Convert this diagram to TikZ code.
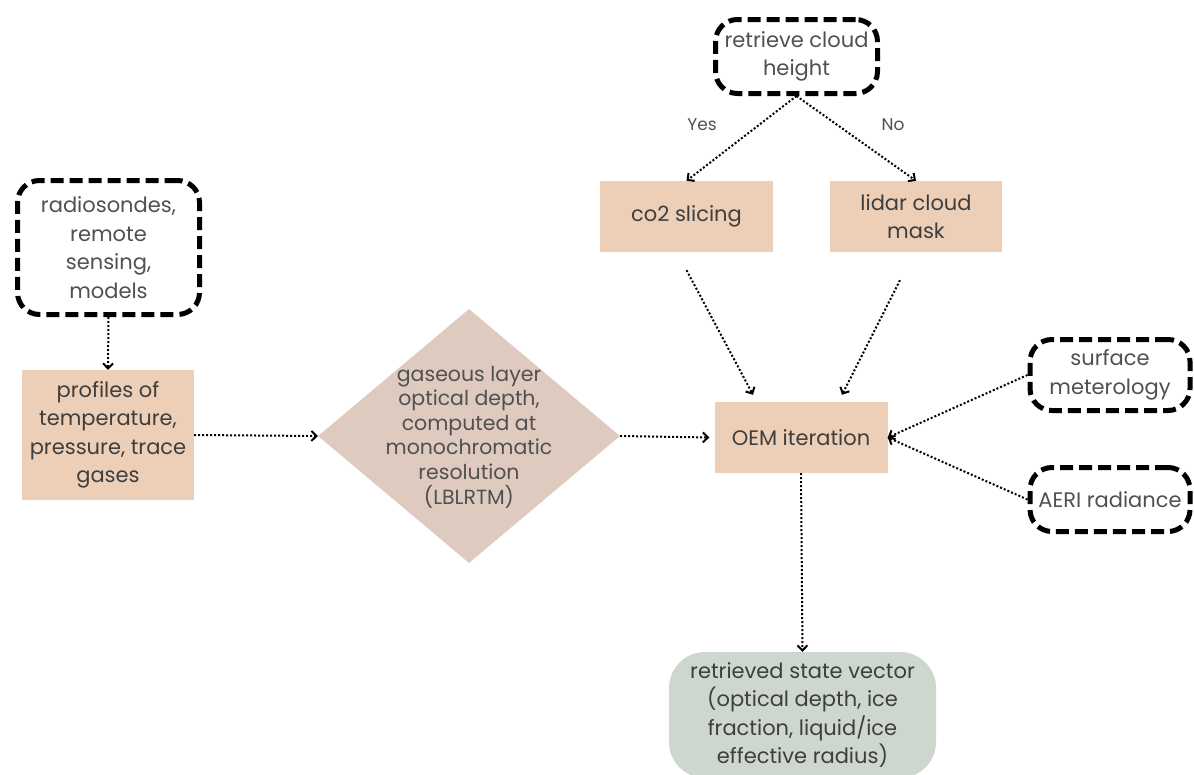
\documentclass[tikz,border=0pt]{standalone}
\usepackage{fontspec}
\setmainfont{Poppins}
\usetikzlibrary{shapes.geometric,arrows.meta,calc}
\definecolor{peach}{HTML}{EDCFB8}
\definecolor{diafill}{HTML}{DFCAC0}
\definecolor{sage}{HTML}{CED7CD}
\definecolor{txtdark}{HTML}{3E3E3E}
\definecolor{txtgray}{HTML}{505050}
\tikzset{
  base/.style={align=center, inner sep=0pt, font=\fontsize{21}{28.5}\selectfont},
  fillbox/.style={base, rectangle, fill=peach, text=txtdark},
  dashbox/.style={base, rectangle, draw=black, line width=5pt, dash pattern=on 13pt off 6pt, rounded corners=22pt, text=txtgray},
  dotarrow/.style={line width=2pt, dash pattern=on 2pt off 2pt, -{Straight Barb[length=5pt,width=10pt,line width=2pt]}},
  lbl/.style={font=\fontsize{17}{19}\selectfont, text=txtgray, inner sep=0pt}
}
\begin{document}
\begin{tikzpicture}[x=1pt,y=-1pt]
\useasboundingbox (0,0) rectangle (1194,774);
% nodes
\node[dashbox, minimum width=162pt, minimum height=74pt] (top) at (796.5,56.5) {retrieve cloud\\height};
\node[fillbox, minimum width=173pt, minimum height=71pt] (co2) at (686.5,216.5) {co2 slicing};
\node[fillbox, minimum width=172pt, minimum height=71pt] (lidar) at (916,216.5) {lidar cloud\\mask};
\node[dashbox, minimum width=182pt, minimum height=134pt] (rad) at (108.5,247.5) {radiosondes,\\remote\\sensing,\\models};
\node[fillbox, minimum width=172pt, minimum height=130pt] (prof) at (108,435) {profiles of\\temperature,\\pressure, trace\\gases};
\node[diamond, fill=diafill, minimum width=302pt, minimum height=254pt, inner sep=0pt] (dia) at (469,436) {};
\node[base, text=txtgray, font=\fontsize{20.5}{24.6}\selectfont] (diatext) at (469,437) {gaseous layer\\optical depth,\\computed at\\monochromatic\\resolution\\(LBLRTM)};
\node[fillbox, minimum width=173pt, minimum height=71pt] (oem) at (801,437.5) {OEM iteration};
\node[dashbox, minimum width=160pt, minimum height=71pt] (surf) at (1110,375) {surface\\meterology};
\node[dashbox, minimum width=160pt, minimum height=64pt] (aeri) at (1110,499.5) {AERI radiance};
\node[base, rectangle, fill=sage, text=txtdark, rounded corners=36pt, minimum width=267pt, minimum height=126pt] (ret) at (802.5,715) {retrieved state vector\\(optical depth, ice\\fraction, liquid/ice\\effective radius)};
\node[lbl] (yes) at (702,125) {Yes};
\node[lbl] (no) at (893,125) {No};
% free ends
\coordinate (co2out) at ($(co2.south)+(0,18)$);
\coordinate (lidarout) at ($(lidar.south)+(-16,28)$);
\coordinate (oemin1) at ($(oem.north)+(-48,-7)$);
\coordinate (oemin2) at ($(oem.north)+(41,-7)$);
% connectors
\draw[dotarrow] (top.south) -- (co2.north);
\draw[dotarrow] (top.south) -- (lidar.north);
\draw[dotarrow] (co2out) -- (oemin1);
\draw[dotarrow] (lidarout) -- (oemin2);
\draw[dotarrow] (rad.south) -- (prof.north);
\draw[dotarrow] (prof.east) -- (dia.west);
\draw[dotarrow] (dia.east) -- ($(oem.west)+(-5,0)$);
\draw[dotarrow] (surf.west) -- (oem.east);
\draw[dotarrow] (aeri.west) -- (oem.east);
\draw[dotarrow] (oem.south) -- (ret.north);
\end{tikzpicture}
\end{document}
